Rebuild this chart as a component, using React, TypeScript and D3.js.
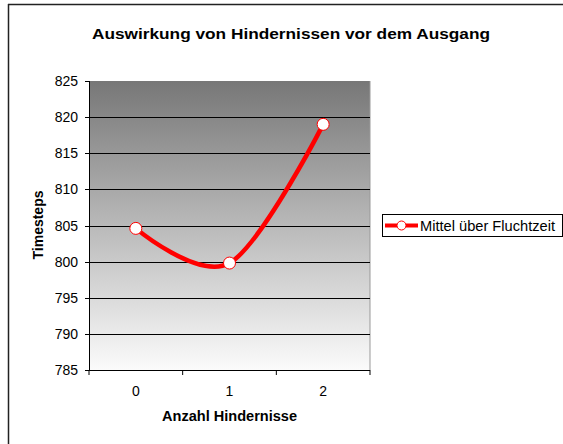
import React from 'react';
import * as d3 from 'd3';

// data
const categories = ['0', '1', '2'];
const meanEscape = [804.6, 799.8, 819.0];
const yTicks = [785, 790, 795, 800, 805, 810, 815, 820, 825];
const seriesName = 'Mittel über Fluchtzeit';

const W = 563;
const H = 444;
const plot = { left: 89, top: 81, right: 370, bottom: 370 };
const font = '"Liberation Sans", Arial, sans-serif';

export default function App() {
  const x = d3.scaleBand().domain(categories).range([plot.left, plot.right]);
  const y = d3.scaleLinear().domain([785, 825]).range([plot.bottom, plot.top]);

  const pts: [number, number][] = meanEscape.map((v, i) => [
    x(categories[i])! + x.bandwidth() / 2,
    y(v),
  ]);
  // excel-ish smoothing
  const line = d3.line().curve(d3.curveCardinal.tension(0))(pts) || '';

  return (
    <svg width={W} height={H} style={{ position: 'absolute', left: 0, top: 0 }} fontFamily={font}>
      <defs>
        <linearGradient id="bg" x1="0" y1="0" x2="0" y2="1">
          <stop offset="0" stopColor="#777777" />
          <stop offset="1" stopColor="#fbfbfb" />
        </linearGradient>
      </defs>
      <rect x={0} y={0} width={W} height={H} fill="#fff" />
      {/* chart border, only top and left visible */}
      <line x1={8} y1={4.5} x2={W} y2={4.5} stroke="#222" strokeWidth={1.5} />
      <line x1={8.5} y1={4} x2={8.5} y2={H} stroke="#222" strokeWidth={1.5} />

      <text x={92} y={38.5} fontSize={15} fontWeight="bold" textLength={398} lengthAdjust="spacingAndGlyphs">
        Auswirkung von Hindernissen vor dem Ausgang
      </text>

      <rect x={plot.left} y={plot.top} width={plot.right - plot.left} height={plot.bottom - plot.top} fill="url(#bg)" />
      <line x1={plot.right} y1={plot.top} x2={plot.right} y2={plot.bottom} stroke="#999" />

      {yTicks.slice(1, -1).map((t) => (
        <line key={'g' + t} x1={plot.left} x2={plot.right} y1={Math.round(y(t)) + 0.5} y2={Math.round(y(t)) + 0.5} stroke="#000" />
      ))}

      {/* y axis */}
      <line x1={plot.left + 0.5} y1={plot.top} x2={plot.left + 0.5} y2={plot.bottom} stroke="#000" />
      {yTicks.map((t) => (
        <g key={'y' + t}>
          <line x1={plot.left - 4} x2={plot.left} y1={Math.round(y(t)) + 0.5} y2={Math.round(y(t)) + 0.5} stroke="#000" />
          <text x={plot.left - 11} y={y(t)} dy="0.36em" textAnchor="end" fontSize={14}>
            {t}
          </text>
        </g>
      ))}

      {/* x axis */}
      <line x1={plot.left} y1={plot.bottom + 0.5} x2={plot.right} y2={plot.bottom + 0.5} stroke="#000" />
      {d3.range(categories.length + 1).map((i) => {
        const xx = plot.left + i * x.bandwidth();
        return <line key={'xt' + i} x1={xx} x2={xx} y1={plot.bottom} y2={plot.bottom + 5} stroke="#000" />;
      })}
      {categories.map((c) => (
        <text key={'x' + c} x={x(c)! + x.bandwidth() / 2} y={396} textAnchor="middle" fontSize={14}>
          {c}
        </text>
      ))}

      <text x={162} y={421} fontSize={14} fontWeight="bold" textLength={135} lengthAdjust="spacingAndGlyphs">
        Anzahl Hindernisse
      </text>
      <text transform="translate(43,225) rotate(-90)" textAnchor="middle" fontSize={14} fontWeight="bold">
        Timesteps
      </text>

      <path d={line} fill="none" stroke="#ff0000" strokeWidth={4.5} strokeLinecap="round" />
      {pts.map((p, i) => (
        <circle key={'m' + i} cx={p[0]} cy={p[1]} r={6} fill="#fff" stroke="#ff0000" strokeWidth={1} />
      ))}

      {/* legend */}
      <rect x={382.5} y={214.5} width={180} height={22} fill="#fff" stroke="#000" />
      <line x1={385} x2={418} y1={225.5} y2={225.5} stroke="#ff0000" strokeWidth={4} />
      <circle cx={401.5} cy={225.5} r={4.5} fill="#fff" stroke="#ff0000" strokeWidth={1} />
      <text x={420} y={230.5} fontSize={14} textLength={135} lengthAdjust="spacingAndGlyphs">
        {seriesName}
      </text>
    </svg>
  );
}
